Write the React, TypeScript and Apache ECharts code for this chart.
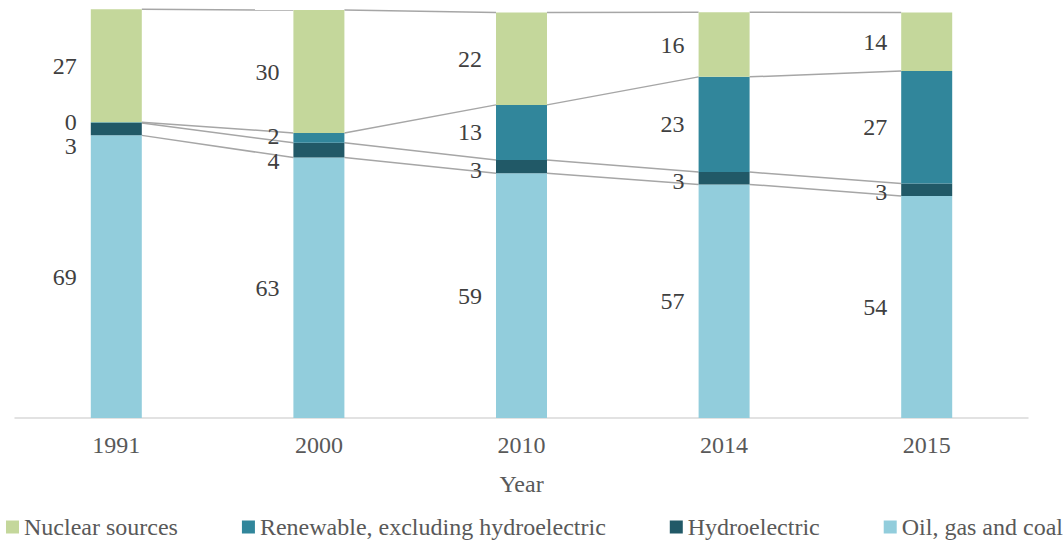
import React, { useEffect, useRef } from "react";
import * as echarts from "echarts";

const years = ["1991", "2000", "2010", "2014", "2015"];
const oil = [68.6, 63.2, 59.4, 56.7, 53.9];
const hydro = [3.0, 3.6, 3.2, 3.0, 3.0];
const renewable = [0.2, 2.4, 13.4, 23.1, 27.3];
const nuclear = [27.4, 29.8, 22.4, 15.7, 14.2];
const legendNames = [
  "Nuclear sources",
  "Renewable, excluding hydroelectric",
  "Hydroelectric",
  "Oil, gas and coal",
];

const hydroLabelShift = [17, 11, 3, 3, 2];
const renewableLabelShift = [-1, -2, 0, 0, 0];

const FONT = "Liberation Serif";
const BAR_W = 51;

export default function App() {
  const ref = useRef<HTMLDivElement>(null);
  useEffect(() => {
    if (!ref.current) return;
    const chart = echarts.init(ref.current, undefined, { renderer: "svg" });

    const stacks = [oil, hydro, renewable, nuclear];
    const cum: number[][] = years.map((_, i) => {
      let s = 0;
      return stacks.map((arr) => (s += arr[i]));
    });
    const lineData = years.slice(0, -1).map((_, i) => [i, ...cum[i], ...cum[i + 1]]);

    const label = (extra: any = {}) => ({
      show: true,
      position: "left",
      distance: 14,
      fontSize: 24,
      lineHeight: 18,
      fontFamily: FONT,
      color: "#404040",
      formatter: (p: any) => String(Math.round(p.value)),
      ...extra,
    });

    const shifted = (arr: number[], shifts: number[]) =>
      arr.map((v, i) => ({ value: v, label: { offset: [0, shifts[i]] } }));

    const barSeries = (name: string, arr: number[], color: string, data?: any[]) => ({
      name,
      type: "bar",
      stack: "total",
      barWidth: BAR_W,
      itemStyle: { color },
      label: label(),
      data: data || arr,
    });

    chart.setOption({
      animation: false,
      textStyle: { fontFamily: FONT },
      grid: { left: 15, right: 35, top: 6, bottom: 129 },
      legend: {
        data: legendNames,
        left: 6,
        top: 515,
        padding: 0,
        icon: "rect",
        itemWidth: 13,
        itemHeight: 13,
        itemGap: 64,
        textStyle: { fontSize: 24, fontFamily: FONT, color: "#595959" },
      },
      xAxis: {
        type: "category",
        data: years,
        axisLine: { lineStyle: { color: "#d9d9d9", width: 1.5 } },
        axisTick: { show: false },
        axisLabel: { fontSize: 24, fontFamily: FONT, color: "#595959", margin: 15 },
        name: "Year",
        nameLocation: "middle",
        nameGap: 54,
        nameTextStyle: { fontSize: 24, fontFamily: FONT, color: "#595959" },
      },
      yAxis: { type: "value", min: 0, max: 100, show: false, splitLine: { show: false } },
      series: [
        barSeries(legendNames[3], oil, "#92cddc"),
        barSeries(legendNames[2], hydro, "#215967", shifted(hydro, hydroLabelShift)),
        barSeries(legendNames[1], renewable, "#31869b", shifted(renewable, renewableLabelShift)),
        barSeries(legendNames[0], nuclear, "#c4d79b"),
        {
          type: "custom",
          name: "seriesLines",
          silent: true,
          data: lineData,
          renderItem: (params: any, api: any) => {
            const i = api.value(0);
            const half = BAR_W / 2;
            const children: any[] = [];
            for (let k = 0; k < 4; k++) {
              const a = api.coord([i, api.value(1 + k)]);
              const b = api.coord([i + 1, api.value(5 + k)]);
              children.push({
                type: "line",
                shape: { x1: a[0] + half, y1: a[1], x2: b[0] - half, y2: b[1] },
                style: { stroke: "#a6a6a6", lineWidth: 1.5 },
              });
            }
            return { type: "group", children };
          },
        },
      ],
    });
    return () => chart.dispose();
  }, []);
  return (
    <div
      ref={ref}
      style={{ position: "absolute", left: 0, top: 0, width: 1063, height: 547 }}
    />
  );
}
